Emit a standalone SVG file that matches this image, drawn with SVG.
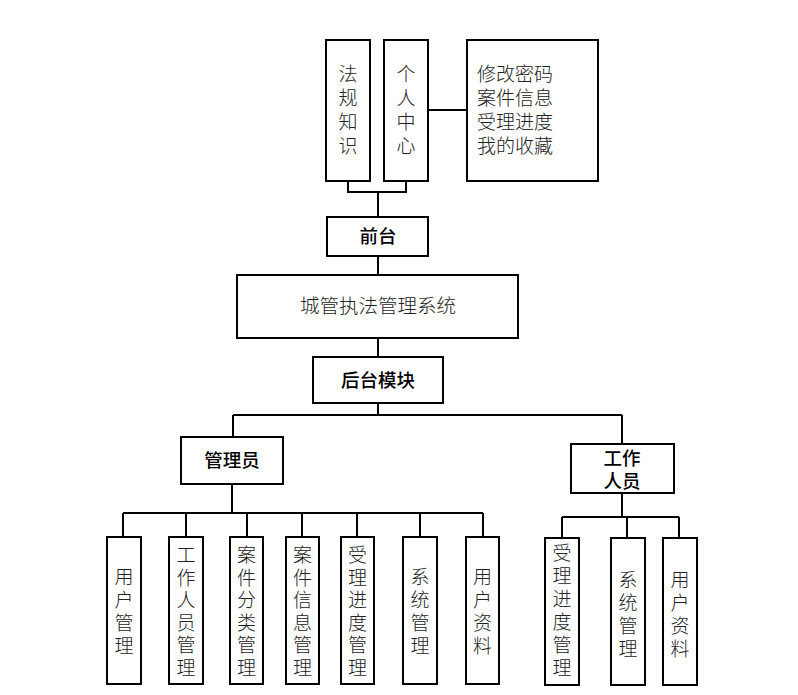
<svg xmlns="http://www.w3.org/2000/svg" width="798" height="695" viewBox="0 0 798 695">
<style>
.box{fill:#fff;stroke:#000;stroke-width:2}
.ln{fill:none;stroke:#000;stroke-width:2}
text{font-family:"Liberation Sans","Noto Sans CJK SC","Noto Sans CJK JP",sans-serif;fill:#222;text-anchor:middle;dominant-baseline:central}
.t{font-size:19px;font-weight:300}
.b{font-size:18.5px;font-weight:500;fill:#000}
.l{text-anchor:start}
</style>
<rect width="798" height="695" fill="#fff"/>
<g id="connectors">
<path class="ln" d="M428 110H467"/>
<path class="ln" d="M348 181V192H406V181M378 192V217"/>
<path class="ln" d="M378 256V275M378 338V357M378 403V415M233 415H622M233 415V437M622 415V444"/>
<path class="ln" d="M232 484V513M123 513H483M123 513V537M186 513V537M247 513V537M302 513V537M357 513V537M420 513V537M483 513V537"/>
<path class="ln" d="M622 493V517M562 517H679M562 517V538M627 517V538M679 517V538"/>
</g>
<g id="n-fagui"><rect class="box" x="326" y="40" width="44" height="141"/>
<text class="t"><tspan x="348" y="74">法</tspan><tspan x="348" y="98">规</tspan><tspan x="348" y="122">知</tspan><tspan x="348" y="146">识</tspan></text></g>
<g id="n-geren"><rect class="box" x="384" y="40" width="44" height="141"/>
<text class="t"><tspan x="406" y="74">个</tspan><tspan x="406" y="98">人</tspan><tspan x="406" y="122">中</tspan><tspan x="406" y="146">心</tspan></text></g>
<g id="n-gerenlist"><rect class="box" x="467" y="40" width="131" height="141"/>
<text class="t l"><tspan x="477" y="74">修改密码</tspan><tspan x="477" y="98">案件信息</tspan><tspan x="477" y="122">受理进度</tspan><tspan x="477" y="146">我的收藏</tspan></text></g>
<g id="n-qiantai"><rect class="box" x="327" y="217" width="101" height="39"/>
<text class="b" x="378" y="236">前台</text></g>
<g id="n-system"><rect class="box" x="237" y="275" width="281" height="63"/>
<text class="t" x="378" y="306" style="font-size:19.5px">城管执法管理系统</text></g>
<g id="n-houtai"><rect class="box" x="313" y="357" width="130" height="46"/>
<text class="b" x="378" y="380">后台模块</text></g>
<g id="n-admin"><rect class="box" x="181" y="437" width="102" height="47"/>
<text class="b" x="232" y="460">管理员</text></g>
<g id="n-worker"><rect class="box" x="571" y="444" width="103" height="49"/>
<text class="b"><tspan x="622" y="458">工作</tspan><tspan x="622" y="481">人员</tspan></text></g>
<g id="n-a1"><rect class="box" x="107" y="537" width="34" height="147"/>
<text class="t"><tspan x="124" y="577">用</tspan><tspan x="124" y="600">户</tspan><tspan x="124" y="623">管</tspan><tspan x="124" y="646">理</tspan></text></g>
<g id="n-a2"><rect class="box" x="169" y="537" width="34" height="147"/>
<text class="t"><tspan x="186" y="555">工</tspan><tspan x="186" y="578">作</tspan><tspan x="186" y="600">人</tspan><tspan x="186" y="623">员</tspan><tspan x="186" y="645">管</tspan><tspan x="186" y="668">理</tspan></text></g>
<g id="n-a3"><rect class="box" x="230" y="537" width="33" height="147"/>
<text class="t"><tspan x="246.5" y="555">案</tspan><tspan x="246.5" y="578">件</tspan><tspan x="246.5" y="600">分</tspan><tspan x="246.5" y="623">类</tspan><tspan x="246.5" y="645">管</tspan><tspan x="246.5" y="668">理</tspan></text></g>
<g id="n-a4"><rect class="box" x="286" y="537" width="33" height="147"/>
<text class="t"><tspan x="302.5" y="555">案</tspan><tspan x="302.5" y="578">件</tspan><tspan x="302.5" y="600">信</tspan><tspan x="302.5" y="623">息</tspan><tspan x="302.5" y="645">管</tspan><tspan x="302.5" y="668">理</tspan></text></g>
<g id="n-a5"><rect class="box" x="341" y="537" width="33" height="147"/>
<text class="t"><tspan x="357.5" y="555">受</tspan><tspan x="357.5" y="578">理</tspan><tspan x="357.5" y="600">进</tspan><tspan x="357.5" y="623">度</tspan><tspan x="357.5" y="645">管</tspan><tspan x="357.5" y="668">理</tspan></text></g>
<g id="n-a6"><rect class="box" x="403" y="537" width="34" height="147"/>
<text class="t"><tspan x="420" y="577">系</tspan><tspan x="420" y="600">统</tspan><tspan x="420" y="623">管</tspan><tspan x="420" y="646">理</tspan></text></g>
<g id="n-a7"><rect class="box" x="466" y="537" width="33" height="147"/>
<text class="t"><tspan x="482.5" y="577">用</tspan><tspan x="482.5" y="600">户</tspan><tspan x="482.5" y="623">资</tspan><tspan x="482.5" y="646">料</tspan></text></g>
<g id="n-w1"><rect class="box" x="545" y="538" width="34" height="147"/>
<text class="t"><tspan x="562" y="553">受</tspan><tspan x="562" y="576">理</tspan><tspan x="562" y="599">进</tspan><tspan x="562" y="622">度</tspan><tspan x="562" y="645">管</tspan><tspan x="562" y="668">理</tspan></text></g>
<g id="n-w2"><rect class="box" x="611" y="538" width="34" height="147"/>
<text class="t"><tspan x="628" y="580">系</tspan><tspan x="628" y="603">统</tspan><tspan x="628" y="626">管</tspan><tspan x="628" y="649">理</tspan></text></g>
<g id="n-w3"><rect class="box" x="663" y="538" width="34" height="147"/>
<text class="t"><tspan x="680" y="580">用</tspan><tspan x="680" y="603">户</tspan><tspan x="680" y="626">资</tspan><tspan x="680" y="649">料</tspan></text></g>
</svg>
